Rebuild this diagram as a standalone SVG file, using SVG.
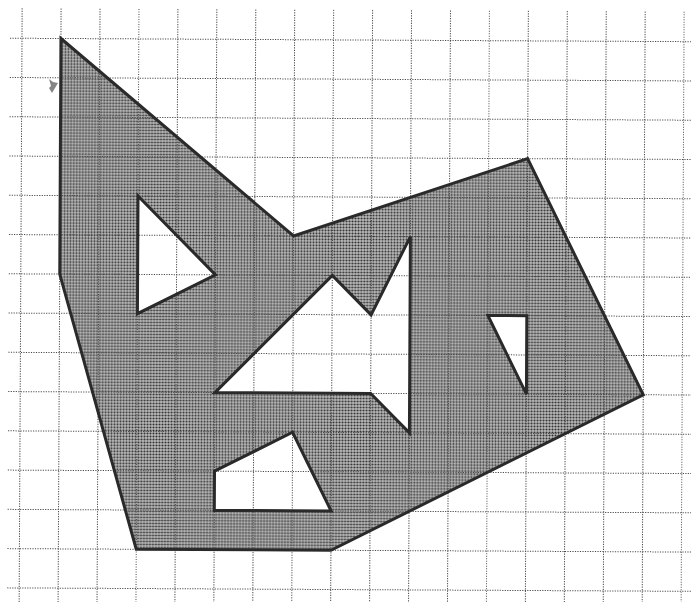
<svg xmlns="http://www.w3.org/2000/svg" width="691" height="602" viewBox="0 0 691 602">
  <style>
    .grid line { stroke: #4a4a4a; stroke-width: 1; stroke-dasharray: 1.2 1.3; }
    .shape { fill: url(#stipple); fill-rule: evenodd; stroke: none; }
    .outline { fill: none; stroke: #2a2a2a; stroke-width: 3; stroke-linejoin: miter; }
  </style>
  <defs>
    <pattern id="stipple" width="3" height="3" patternUnits="userSpaceOnUse">
      <rect width="3" height="3" fill="#bdbdbd"/>
      <circle cx="1.5" cy="1.5" r="1.05" fill="#2e2e2e"/>
    </pattern>
  </defs>
  <rect width="691" height="602" fill="#ffffff"/>
  <g transform="translate(22 38.3) rotate(0.29)">
    <g id="fill">
      <path class="shape" d="M38.94,0 L272.58,196.3 L506.22,117.78 L623.04,353.34 L311.52,510.38 L116.82,510.38 L38.94,235.56 Z
        M116.82,157.04 L194.7,235.56 L116.82,274.82 Z
        M194.7,353.34 L311.52,235.56 L350.46,274.82 L389.4,196.3 L389.4,392.6 L350.46,353.34 Z
        M467.28,274.82 L506.22,274.82 L506.22,353.34 Z
        M194.7,431.86 L272.58,392.6 L311.52,471.12 L194.7,471.12 Z"/>
    </g>
    <g id="grid" class="grid">
      <line x1="0" y1="-30" x2="0" y2="566"/>
      <line x1="38.94" y1="-30" x2="38.94" y2="566"/>
      <line x1="77.88" y1="-30" x2="77.88" y2="566"/>
      <line x1="116.82" y1="-30" x2="116.82" y2="566"/>
      <line x1="155.76" y1="-30" x2="155.76" y2="566"/>
      <line x1="194.7" y1="-30" x2="194.7" y2="566"/>
      <line x1="233.64" y1="-30" x2="233.64" y2="566"/>
      <line x1="272.58" y1="-30" x2="272.58" y2="566"/>
      <line x1="311.52" y1="-30" x2="311.52" y2="566"/>
      <line x1="350.46" y1="-30" x2="350.46" y2="566"/>
      <line x1="389.4" y1="-30" x2="389.4" y2="566"/>
      <line x1="428.34" y1="-30" x2="428.34" y2="566"/>
      <line x1="467.28" y1="-30" x2="467.28" y2="566"/>
      <line x1="506.22" y1="-30" x2="506.22" y2="566"/>
      <line x1="545.16" y1="-30" x2="545.16" y2="566"/>
      <line x1="584.1" y1="-30" x2="584.1" y2="566"/>
      <line x1="623.04" y1="-30" x2="623.04" y2="566"/>
      <line x1="661.98" y1="-30" x2="661.98" y2="566"/>
      <line x1="-12" y1="0" x2="672" y2="0"/>
      <line x1="-12" y1="39.26" x2="672" y2="39.26"/>
      <line x1="-12" y1="78.52" x2="672" y2="78.52"/>
      <line x1="-12" y1="117.78" x2="672" y2="117.78"/>
      <line x1="-12" y1="157.04" x2="672" y2="157.04"/>
      <line x1="-12" y1="196.3" x2="672" y2="196.3"/>
      <line x1="-12" y1="235.56" x2="672" y2="235.56"/>
      <line x1="-12" y1="274.82" x2="672" y2="274.82"/>
      <line x1="-12" y1="314.08" x2="672" y2="314.08"/>
      <line x1="-12" y1="353.34" x2="672" y2="353.34"/>
      <line x1="-12" y1="392.6" x2="672" y2="392.6"/>
      <line x1="-12" y1="431.86" x2="672" y2="431.86"/>
      <line x1="-12" y1="471.12" x2="672" y2="471.12"/>
      <line x1="-12" y1="510.38" x2="672" y2="510.38"/>
      <line x1="-12" y1="549.64" x2="672" y2="549.64"/>
    </g>
    <g id="outlines" class="outline">
      <polygon points="38.94,0 272.58,196.3 506.22,117.78 623.04,353.34 311.52,510.38 116.82,510.38 38.94,235.56"/>
      <polygon points="116.82,157.04 194.7,235.56 116.82,274.82"/>
      <polygon points="194.7,353.34 311.52,235.56 350.46,274.82 389.4,196.3 389.4,392.6 350.46,353.34"/>
      <polygon points="467.28,274.82 506.22,274.82 506.22,353.34"/>
      <polygon points="194.7,431.86 272.58,392.6 311.52,471.12 194.7,471.12"/>
    </g>
  </g>
  <path id="mark" d="M49,79 L53,82 L58,83 L55,88 L52,93 L49,88 L51,86 Z" fill="#666" opacity="0.8"/>
</svg>
